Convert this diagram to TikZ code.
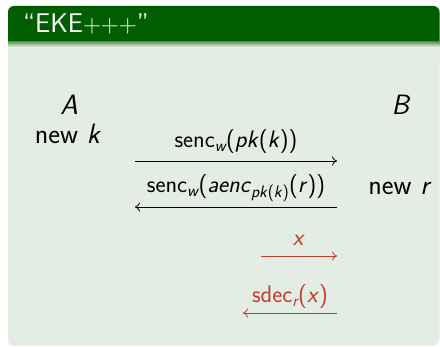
\documentclass[tikz,border=0pt]{standalone}
\usepackage{fontspec}
\usetikzlibrary{arrows.meta, calc, positioning}
\definecolor{blockgreen}{RGB}{0,94,0}
\definecolor{blockbody}{RGB}{228,237,227}
\definecolor{alertred}{RGB}{196,58,44}
\tikzset{partytext/.style={anchor=base, inner sep=0pt, font=\fontsize{28}{32}\selectfont\sffamily}}
\tikzset{msgtext/.style={anchor=base, inner sep=0pt, font=\fontsize{24}{28}\selectfont\sffamily}}
\tikzset{msgarrow/.style={-{To[length=5pt, width=9pt]}, line width=0.8pt}}

\begin{document}
\begin{tikzpicture}[x=1pt, y=-1pt]
\useasboundingbox (0,0) rectangle (440,347);
\fill[blockbody, rounded corners=6pt] (8,6) rectangle (439.5,346);
\fill[blockgreen, rounded corners=6pt] (8,6) rectangle (439.5,56);
\fill[blockbody] (8,42) rectangle (439.5,60);
\shade[top color=blockgreen!55!blockbody, bottom color=blockbody] (8,42) rectangle (439.5,47);
\node[anchor=base west, inner sep=0pt, text=white, font=\fontsize{27}{31}\selectfont\sffamily] (title) at (23,33) {“EKE${+}{+}{+}$”};

\node[partytext] (A) at (69,115) {\textit{A}};
\node[partytext] (newk) at (68,144) {new \textit{k}};
\node[partytext] (B) at (401,115) {\textit{B}};
\node[partytext] (newr) at (400,195) {new \textit{r}};

\coordinate (m1l) at (135,161);
\coordinate (m1r) at (337,161);
\coordinate (m2l) at (135,207);
\coordinate (m2r) at (337,207);
\coordinate (m3l) at (261,256);
\coordinate (m3r) at (337,256);
\coordinate (m4l) at (243,313);
\coordinate (m4r) at (337,313);

\draw[msgarrow] (m1l) -- (m1r);
\draw[msgarrow] (m2r) -- (m2l);
\draw[msgarrow, alertred] (m3l) -- (m3r);
\draw[msgarrow, alertred] (m4r) -- (m4l);

\node[msgtext] (m1) at ($(m1l)!0.5!(m1r)+(0,-13)$) {senc\textsubscript{\itshape w}(\textit{pk}(\textit{k}))};
\node[msgtext] (m2) at ($(m2l)!0.5!(m2r)+(0,-14)$) {senc\textsubscript{\itshape w}(\textit{aenc}\textsubscript{\textit{pk}(\textit{k})}(\textit{r}))};
\node[msgtext, text=alertred] (m3) at ($(m3l)!0.5!(m3r)+(0,-10)$) {\textit{x}};
\node[msgtext, text=alertred] (m4) at ($(m4l)!0.5!(m4r)+(0,-10)$) {sdec\textsubscript{\itshape r}(\textit{x})};
\end{tikzpicture}
\end{document}
